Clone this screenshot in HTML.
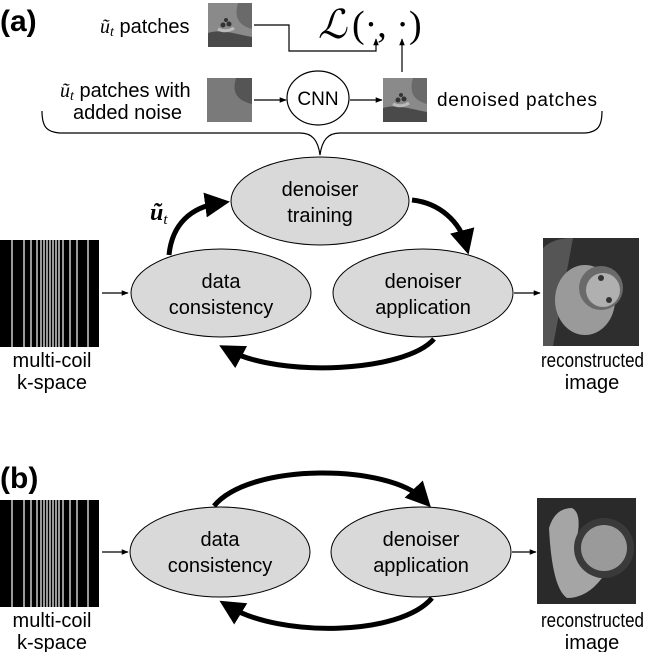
<!DOCTYPE html>
<html><head><meta charset="utf-8"><style>
html,body{margin:0;padding:0;background:#fff;}
svg{display:block;font-family:"Liberation Sans",sans-serif;}
</style></head><body>
<svg width="645" height="652" viewBox="0 0 645 652" xmlns="http://www.w3.org/2000/svg">
<defs>
<marker id="sa" viewBox="0 0 10 10" refX="9" refY="5" markerWidth="7" markerHeight="7" orient="auto" markerUnits="userSpaceOnUse"><path d="M0,1 L10,5 L0,9 z" fill="#000"/></marker>
<marker id="ba" viewBox="0 0 10 10" refX="6" refY="5" markerWidth="5" markerHeight="5" orient="auto"><path d="M0,0 L10,5 L0,10 z" fill="#000"/></marker>
<g id="ks">
<rect x="0" y="0" width="99" height="107" fill="#000"/>
<g stroke="#fff" stroke-width="1.2">
<line x1="12" y1="0" x2="12" y2="107"/><line x1="24" y1="0" x2="24" y2="107"/><line x1="31" y1="0" x2="31" y2="107"/><line x1="37" y1="0" x2="37" y2="107"/><line x1="41" y1="0" x2="41" y2="107"/><line x1="44" y1="0" x2="44" y2="107"/><line x1="47" y1="0" x2="47" y2="107"/><line x1="50" y1="0" x2="50" y2="107"/><line x1="53" y1="0" x2="53" y2="107"/><line x1="56" y1="0" x2="56" y2="107"/><line x1="59" y1="0" x2="59" y2="107"/><line x1="63" y1="0" x2="63" y2="107"/><line x1="70" y1="0" x2="70" y2="107"/><line x1="77" y1="0" x2="77" y2="107"/><line x1="88" y1="0" x2="88" y2="107"/>
</g></g>
<g id="patch">
<rect width="44" height="44" fill="#6a6a6a"/>
<path d="M0,0 H30 C26,14 30,22 44,26 V44 H0 Z" fill="#8a8a8a"/>
<path d="M0,30 C12,26 24,30 44,34 V44 H0 Z" fill="#4a4a4a"/>
<circle cx="15" cy="22" r="2.5" fill="#333"/><circle cx="21" cy="21" r="2.5" fill="#333"/><circle cx="18" cy="17" r="2" fill="#333"/>
<path d="M10,26 Q18,30 26,25" stroke="#bbb" stroke-width="3" fill="none"/>
</g>
</defs>

<!-- (a) -->
<text x="0" y="31" font-size="30" font-weight="bold">(a)</text>
<text x="100" y="33" font-size="20"><tspan font-family="Liberation Serif" font-style="italic">ũ</tspan><tspan font-family="Liberation Serif" font-style="italic" font-size="14" dy="3">t</tspan><tspan dy="-3"> patches</tspan></text>
<use href="#patch" x="208" y="3"/>
<text x="318" y="38" font-size="40" font-family="Liberation Serif" font-style="italic">ℒ</text>
<text x="352" y="37" font-size="38" font-family="Liberation Serif">(·, ·)</text>
<polyline points="254,25 289,25 289,51 376,51 376,39" fill="none" stroke="#000" stroke-width="1.2" marker-end="url(#sa)"/>
<line x1="402" y1="72" x2="402" y2="39" stroke="#000" stroke-width="1.2" marker-end="url(#sa)"/>

<text x="60" y="97" font-size="20"><tspan font-family="Liberation Serif" font-style="italic">ũ</tspan><tspan font-family="Liberation Serif" font-style="italic" font-size="14" dy="3">t</tspan><tspan dy="-3"> patches with</tspan></text>
<text x="73" y="119" font-size="20">added noise</text>
<rect x="207" y="78" width="45" height="44" fill="#555"/>
<path d="M207,78 H236 C232,92 236,100 252,104 V122 H207 Z" fill="#7a7a7a"/>
<line x1="254" y1="100" x2="286" y2="100" stroke="#000" stroke-width="1.2" marker-end="url(#sa)"/>
<ellipse cx="318" cy="98" rx="31" ry="27" fill="#fff" stroke="#000" stroke-width="1.2"/>
<text x="318" y="105" font-size="19" text-anchor="middle">CNN</text>
<line x1="350" y1="100" x2="382" y2="100" stroke="#000" stroke-width="1.2" marker-end="url(#sa)"/>
<use href="#patch" x="383" y="78"/>
<text x="437" y="106" font-size="19" textLength="160">denoised patches</text>

<path d="M42,111 C42,126 46,132 60,133 L300,133 C312,133 318,140 320,155 C322,140 328,133 340,133 L585,133 C598,132 602,126 602,111" fill="none" stroke="#000" stroke-width="1.2"/>

<ellipse cx="320" cy="201" rx="89" ry="44" fill="#d9d9d9" stroke="#000" stroke-width="1"/>
<text x="320" y="196" font-size="20" text-anchor="middle">denoiser</text>
<text x="320" y="222" font-size="20" text-anchor="middle">training</text>
<ellipse cx="221" cy="293" rx="90" ry="44" fill="#d9d9d9" stroke="#000" stroke-width="1"/>
<text x="221" y="288" font-size="20" text-anchor="middle">data</text>
<text x="221" y="314" font-size="20" text-anchor="middle">consistency</text>
<ellipse cx="423" cy="293" rx="90" ry="44" fill="#d9d9d9" stroke="#000" stroke-width="1"/>
<text x="423" y="288" font-size="20" text-anchor="middle">denoiser</text>
<text x="423" y="314" font-size="20" text-anchor="middle">application</text>

<path d="M169,255 C172,225 190,207 220,203" fill="none" stroke="#000" stroke-width="5" marker-end="url(#ba)"/>
<text x="150" y="220" font-size="24" font-family="Liberation Serif" font-weight="bold" font-style="italic">ũ<tspan font-size="15" font-weight="normal" dy="4">t</tspan></text>
<path d="M412,200 C440,203 460,222 466,245" fill="none" stroke="#000" stroke-width="5" marker-end="url(#ba)"/>
<path d="M434,339 C405,372 280,378 228,350" fill="none" stroke="#000" stroke-width="5" marker-end="url(#ba)"/>

<use href="#ks" x="0" y="240"/>
<line x1="102" y1="293" x2="128" y2="293" stroke="#000" stroke-width="1.2" marker-end="url(#sa)"/>
<line x1="514" y1="293" x2="540" y2="293" stroke="#000" stroke-width="1.2" marker-end="url(#sa)"/>
<text x="52" y="367" font-size="20" text-anchor="middle">multi-coil</text>
<text x="52" y="389" font-size="20" text-anchor="middle">k-space</text>
<g transform="translate(543,238)">
<rect width="96" height="108" fill="#2e2e2e"/>
<path d="M0,10 Q10,0 30,0 L10,108 L0,108 Z" fill="#555"/>
<ellipse cx="42" cy="62" rx="30" ry="35" fill="#9a9a9a"/>
<circle cx="58" cy="50" r="22" fill="#6a6a6a"/>
<circle cx="60" cy="52" r="17" fill="#b0b0b0"/>
<circle cx="58" cy="40" r="3" fill="#333"/><circle cx="66" cy="62" r="3" fill="#333"/>
</g>
<text x="541" y="367" font-size="20" textLength="103" lengthAdjust="spacingAndGlyphs">reconstructed</text>
<text x="592" y="389" font-size="20" text-anchor="middle">image</text>

<!-- (b) -->
<text x="0" y="488" font-size="30" font-weight="bold">(b)</text>
<use href="#ks" x="0" y="500"/>
<ellipse cx="220" cy="552" rx="90" ry="45" fill="#d9d9d9" stroke="#000" stroke-width="1"/>
<text x="220" y="546" font-size="20" text-anchor="middle">data</text>
<text x="220" y="572" font-size="20" text-anchor="middle">consistency</text>
<ellipse cx="421" cy="552" rx="90" ry="45" fill="#d9d9d9" stroke="#000" stroke-width="1"/>
<text x="421" y="546" font-size="20" text-anchor="middle">denoiser</text>
<text x="421" y="572" font-size="20" text-anchor="middle">application</text>
<path d="M214,506 C250,462 390,464 424,500" fill="none" stroke="#000" stroke-width="5" marker-end="url(#ba)"/>
<path d="M432,598 C400,636 280,638 228,606" fill="none" stroke="#000" stroke-width="5" marker-end="url(#ba)"/>
<line x1="102" y1="552" x2="128" y2="552" stroke="#000" stroke-width="1.2" marker-end="url(#sa)"/>
<line x1="512" y1="552" x2="536" y2="552" stroke="#000" stroke-width="1.2" marker-end="url(#sa)"/>
<text x="52" y="627" font-size="20" text-anchor="middle">multi-coil</text>
<text x="52" y="649" font-size="20" text-anchor="middle">k-space</text>
<g transform="translate(537,498)">
<rect width="99" height="106" fill="#2a2a2a"/>
<path d="M12,30 Q18,10 35,10 Q45,15 40,40 Q45,80 65,80 Q50,100 30,100 Q15,90 12,30 Z" fill="#a5a5a5"/>
<circle cx="67" cy="50" r="30" fill="#3a3a3a"/>
<circle cx="67" cy="50" r="23" fill="#9a9a9a"/>
</g>
<text x="541" y="627" font-size="20" textLength="103" lengthAdjust="spacingAndGlyphs">reconstructed</text>
<text x="592" y="649" font-size="20" text-anchor="middle">image</text>
</svg>
</body></html>
